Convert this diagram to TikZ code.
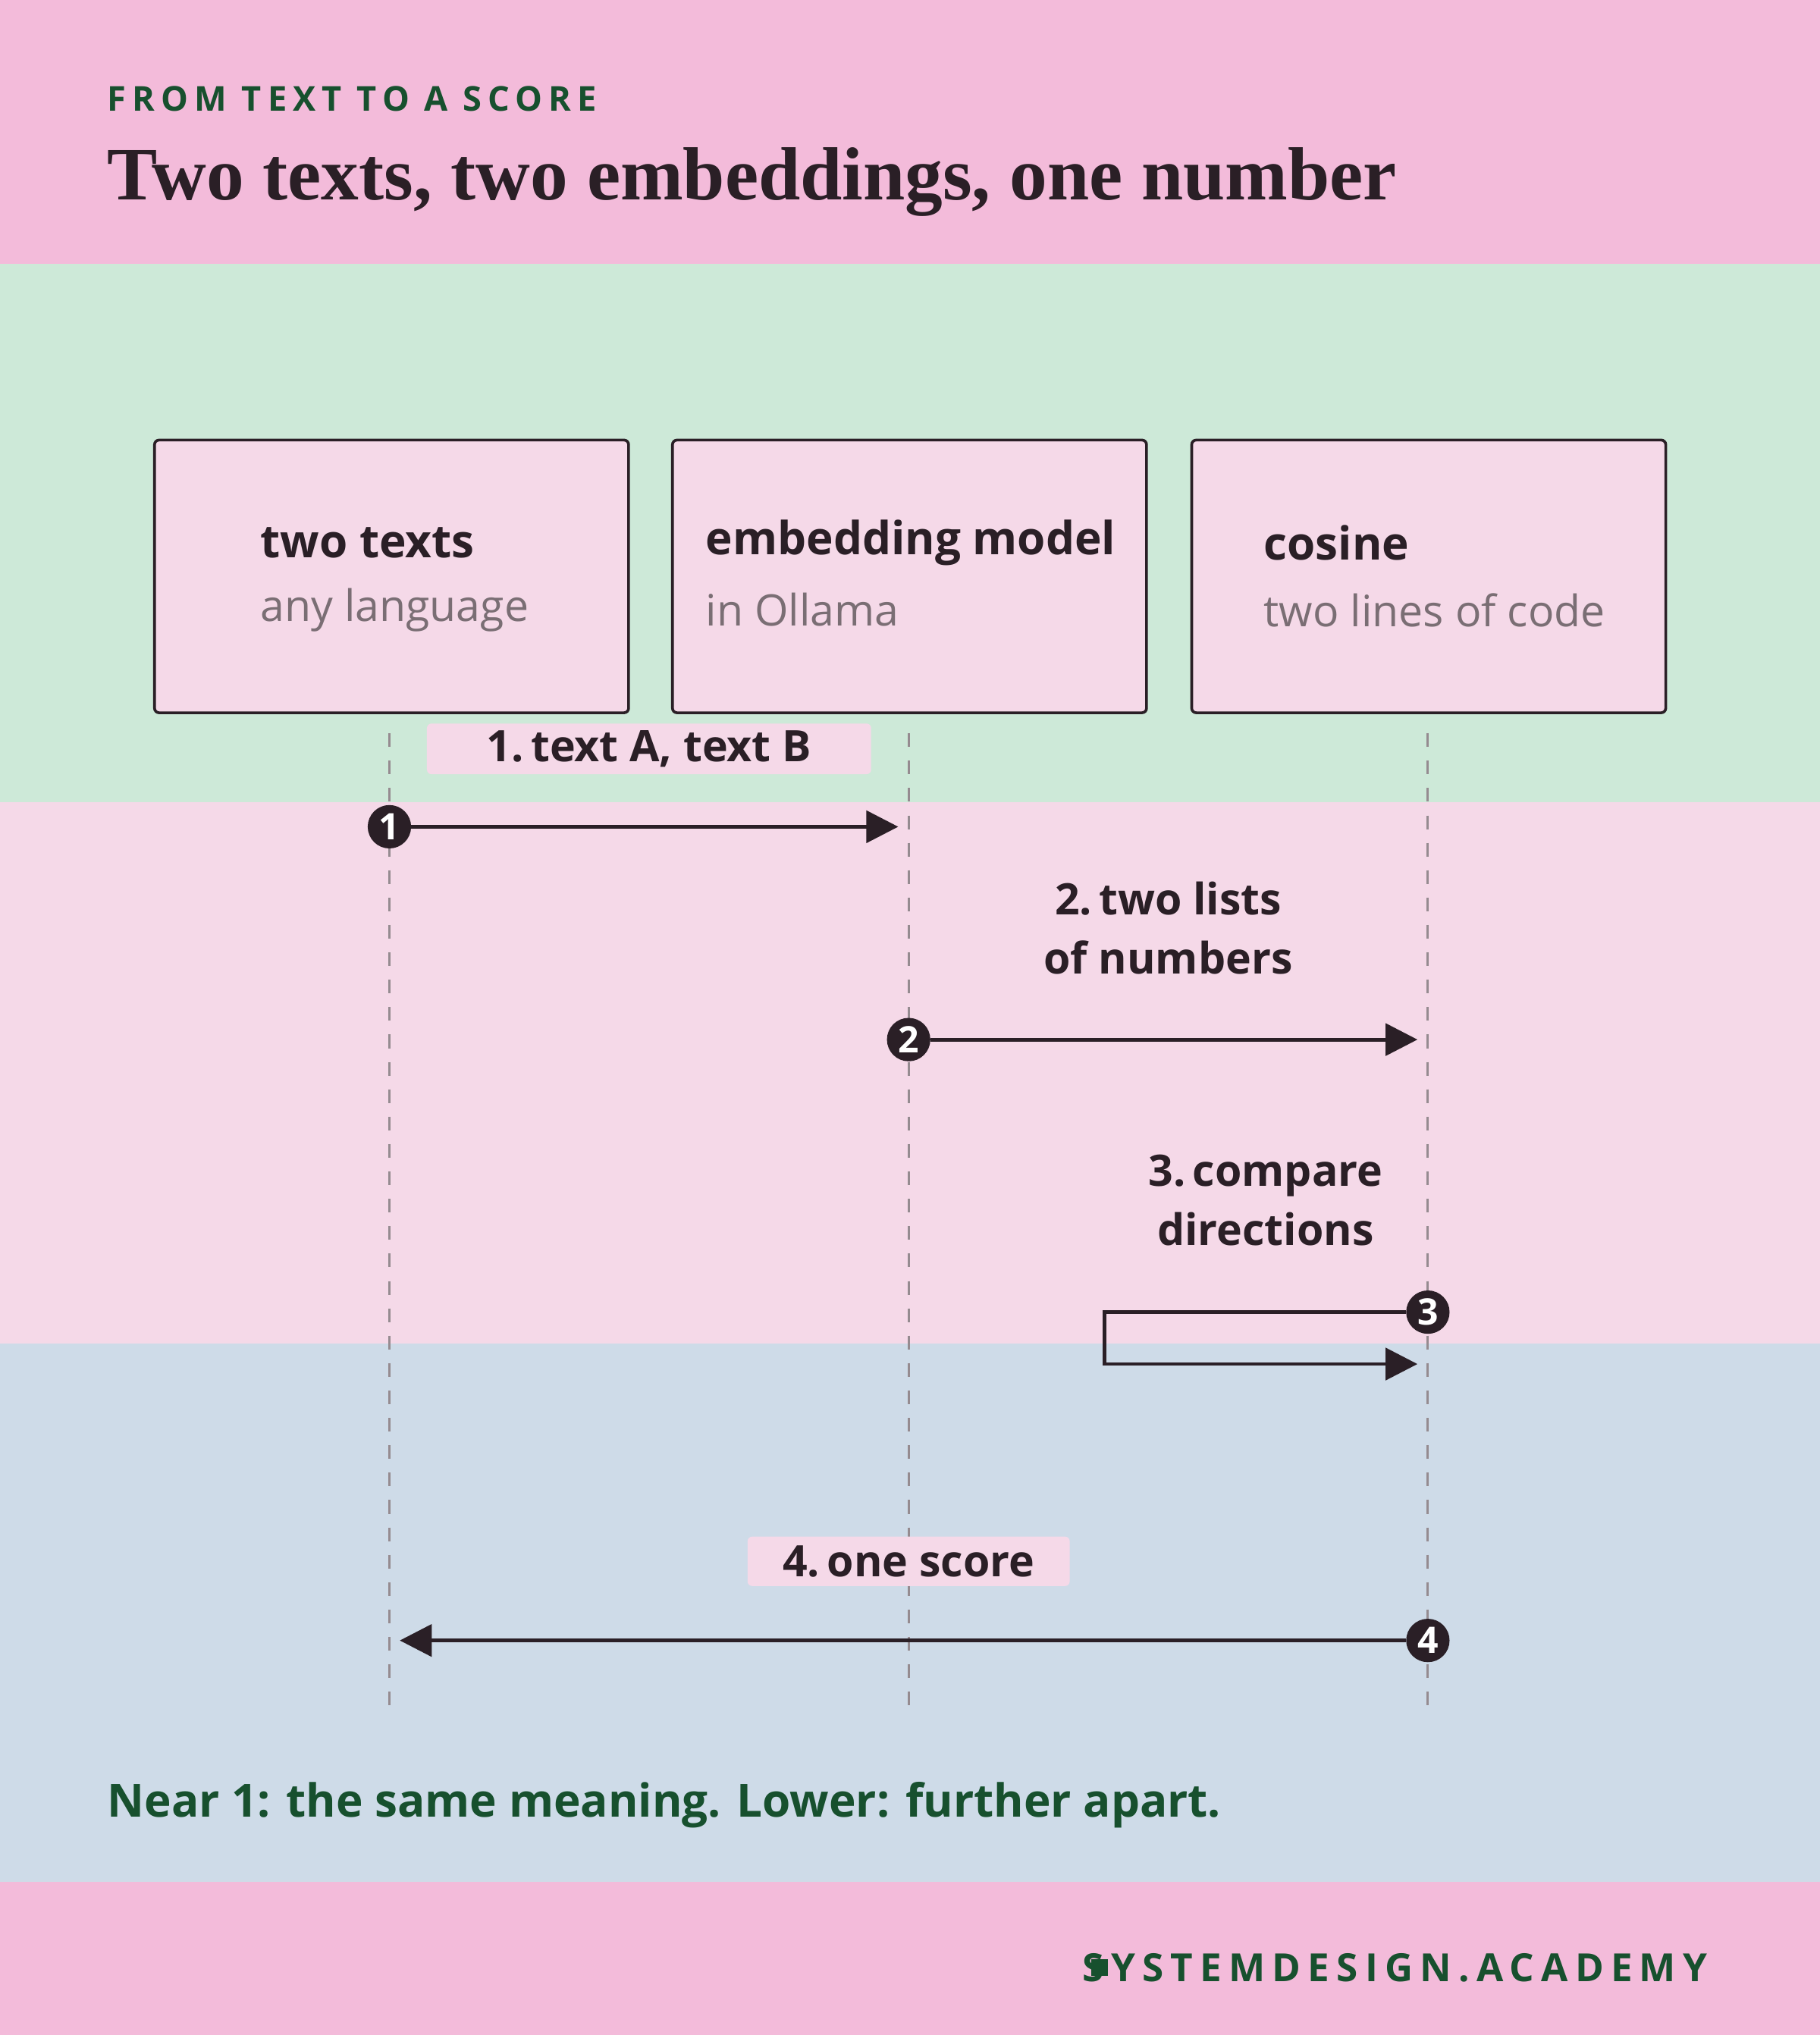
\documentclass[tikz,border=0pt]{standalone}
\usepackage{fontspec}
\setmainfont{Open Sans}
\newfontfamily\titlefont{Liberation Serif}
\newfontfamily\spaced[LetterSpace=18]{Open Sans}
\usetikzlibrary{arrows.meta}
\definecolor{topPink}{HTML}{F3BBDA}
\definecolor{bandGreen}{HTML}{CDE9D8}
\definecolor{bandPink}{HTML}{F5D9E8}
\definecolor{bandBlue}{HTML}{CEDBE8}
\definecolor{ink}{HTML}{2A1F26}
\definecolor{deepGreen}{HTML}{17502E}
\definecolor{softGray}{HTML}{7A6E74}
\tikzset{actor/.style={draw=ink,line width=0.6pt,fill=bandPink,rounded corners=1pt,
                       minimum width=3.65cm,minimum height=2.1cm,inner sep=0pt}}
\tikzset{lifeline/.style={draw=softGray!80,line width=0.5pt,dash pattern=on 3pt off 3pt}}
\tikzset{msg/.style={draw=ink,line width=0.8pt,-{Triangle[length=7pt,width=7pt]}}}
\tikzset{stepdot/.style={circle,fill=ink,draw=ink,inner sep=0pt,minimum size=0.32cm,
                      text=white,font=\bfseries\footnotesize}}
\tikzset{tag/.style={fill=bandPink,rounded corners=1pt,inner sep=0pt,font=\bfseries\fontsize{9.5}{11}\selectfont,text=ink}}
\tikzset{note/.style={align=center,font=\bfseries\fontsize{9.5}{13}\selectfont,text=ink}}
\begin{document}
\begin{tikzpicture}[x=0.01cm,y=-0.01cm]
    % bands
    \fill[topPink] (0,0) rectangle (1402,203);
    \fill[bandGreen] (0,203) rectangle (1402,618);
    \fill[bandPink] (0,618) rectangle (1402,1035);
    \fill[bandBlue] (0,1035) rectangle (1402,1450);
    \fill[topPink] (0,1450) rectangle (1402,1568);

    % header
    \node[anchor=west,text=deepGreen,font=\spaced\bfseries\fontsize{7.5}{9}\selectfont,inner sep=0pt] (kicker) at (82,76) {FROM TEXT TO A SCORE};
    \node[anchor=west,text=ink,font=\titlefont\bfseries\fontsize{16.5}{19}\selectfont,inner sep=0pt] (title) at (82,140) {Two texts, two embeddings, one number};

    % actors
    \foreach \x/\tx/\n/\a/\b in {118/200/texts/two texts/any language,517/543/model/embedding model/in Ollama,917/973/cos/cosine/two lines of code}{
        \node[actor,anchor=north west] (\n) at (\x,338) {};
        \node[anchor=west,font=\bfseries\fontsize{10}{12}\selectfont,text=ink,inner sep=0pt] (\n t) at (\tx,418) {\a};
        \node[anchor=west,font=\fontsize{9.5}{12}\selectfont,text=softGray,inner sep=0pt] (\n s) at (\tx,470) {\b};
    }

    % lifelines
    \foreach \n/\x in {texts/300,model/700,cos/1100}{
        \coordinate (\n top) at (\x,565);
        \coordinate (\n bot) at (\x,1315);
        \draw[lifeline] (\n top) -- (\n bot);
    }

    % step 1
    \node[tag,minimum width=3.42cm,minimum height=0.39cm] (lab1) at (500,577) {1.\,text A, text B};
    \node[stepdot] (s1) at (300,637) {1};
    \coordinate (e1) at (692,637);
    \draw[msg] (s1) -- (e1);

    % step 2
    \node[note] (lab2) at (900,715) {2.\,two lists\\of numbers};
    \node[stepdot] (s2) at (700,801) {2};
    \coordinate (e2) at (1092,801);
    \draw[msg] (s2) -- (e2);

    % step 3
    \node[note] (lab3) at (975,925) {3.\,compare\\directions};
    \node[stepdot] (s3) at (1100,1011) {3};
    \coordinate (e3) at (1092,1051);
    \draw[msg] (s3) -- (851,1011) |- (e3);

    % step 4
    \node[tag,minimum width=2.48cm,minimum height=0.38cm] (lab4) at (700,1203) {4.\,one score};
    \node[stepdot] (s4) at (1100,1264) {4};
    \coordinate (e4) at (308,1264);
    \draw[msg] (s4) -- (e4);

    % footer
    \node[anchor=west,text=deepGreen,font=\bfseries\fontsize{10}{12}\selectfont,inner sep=0pt] (summary) at (82,1391) {Near 1: the same meaning. Lower: further apart.};
    \node[anchor=east,text=deepGreen,font=\spaced\bfseries\fontsize{8.5}{10}\selectfont,inner sep=0pt] (brand) at (1316,1516) {SYSTEMDESIGN.ACADEMY};
    \node[fill=deepGreen,minimum size=0.13cm,inner sep=0pt] (mark) at (847,1516) {};
\end{tikzpicture}
\end{document}
